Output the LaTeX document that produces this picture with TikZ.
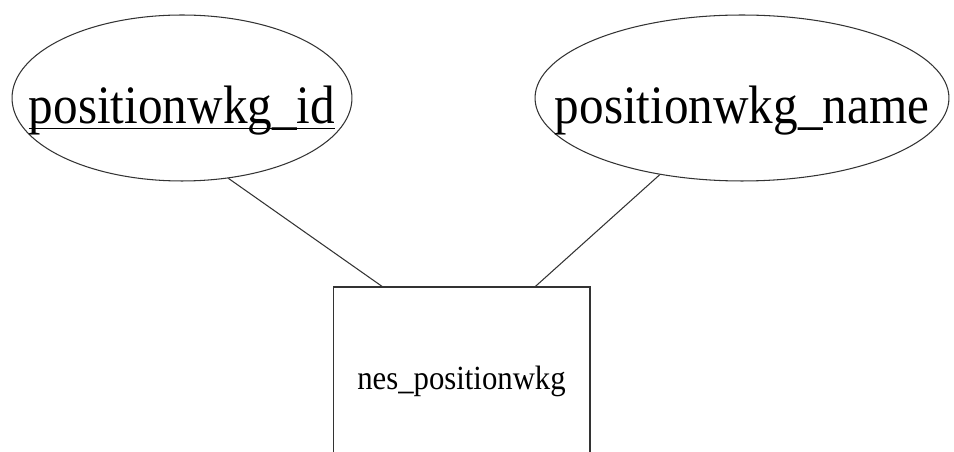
\documentclass[tikz,border=0pt]{standalone}
\usepackage{graphicx}
\usepackage{fontspec}
\setmainfont{Liberation Serif}
\usetikzlibrary{shapes.geometric}

\newcommand{\keyline}[1]{\setbox0\hbox{#1}\rlap{\rule[-0.09cm]{\wd0}{0.7pt}}\box0}
\newcommand{\tall}[1]{\scalebox{1}[1.1]{#1}}

\tikzset{
    attr/.style={draw=black!80, line width=0.6pt, ellipse, inner sep=0pt,
        minimum height=3.32cm, text height=1.1cm, text depth=0.06cm,
        font=\fontsize{28}{30}\selectfont},
    entity/.style={draw=black!80, line width=0.6pt, rectangle, inner sep=0pt,
        minimum width=5.14cm, minimum height=3.76cm,
        text height=0.5cm, text depth=0.16cm,
        font=\fontsize{17.5}{19}\selectfont},
    link/.style={draw=black!80, line width=0.6pt}
}

\begin{document}
\begin{tikzpicture}[x=0.02cm, y=-0.02cm]
            \useasboundingbox (0,0) rectangle (954,452);
            \clip (0,0) rectangle (954,452);

            \node[attr, minimum width=6.8cm] (posid) at (182,98)
                {\makebox[0pt]{\tall{\keyline{positionwkg\_id}}}};
            \node[attr, minimum width=8.28cm] (posname) at (742,98)
                {\makebox[0pt]{\tall{positionwkg\_name}}};

            \node[entity] (nespos) at (461.5,381) {\tall{nes\_positionwkg}};

            \draw[link] (posid.-60) -- (nespos.130);
            \draw[link] (posname.-137) -- (nespos.52);

      \end{tikzpicture}
\end{document}
